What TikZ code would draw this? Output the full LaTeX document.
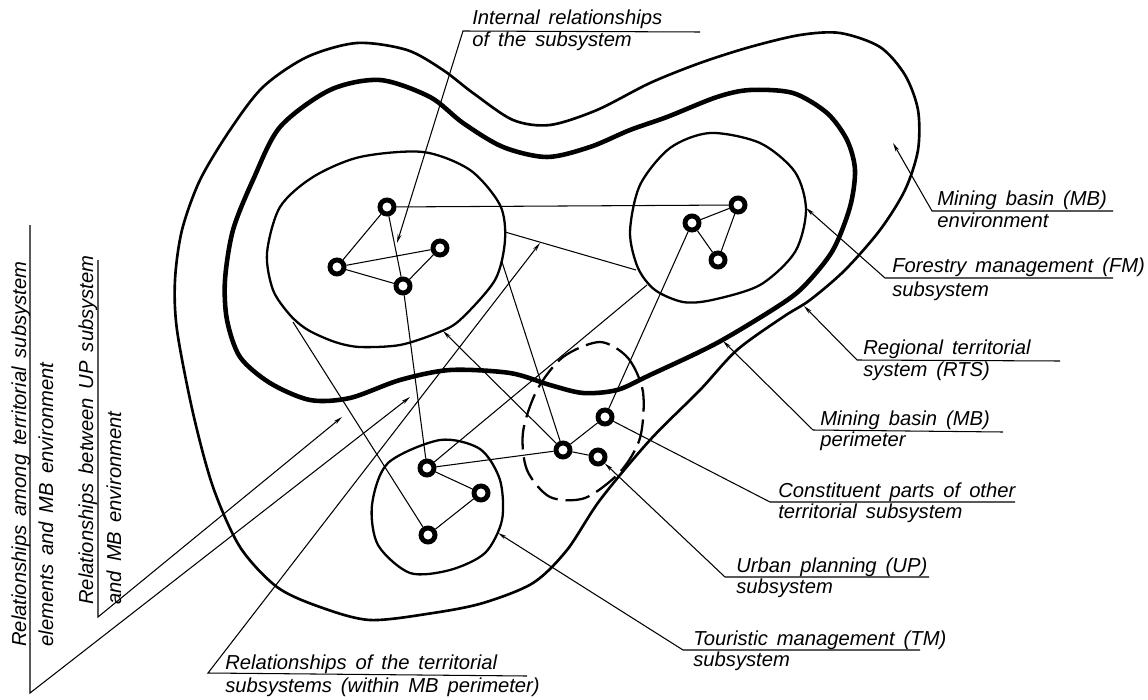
\documentclass[tikz,border=0pt]{standalone}
\usepackage{fontspec}
\newfontfamily\lettering{Liberation Sans}[WordSpace=1.6]
\usetikzlibrary{arrows.meta}

\begin{document}
\begin{tikzpicture}[x=0.02cm, y=-0.02cm,
  rts/.style={line width=1.5pt},
  perim/.style={line width=2.6pt},
  sub/.style={line width=1.3pt},
  elem/.style={circle, draw, line width=2.8pt, fill=white, inner sep=0pt, minimum size=0.28cm},
  rel/.style={line width=0.6pt},
  lead/.style={line width=0.6pt, -{Stealth[length=5pt, width=2.2pt]}},
  txt/.style={font=\lettering\itshape\fontsize{11.5}{13}\selectfont, inner sep=0pt, anchor=base west}
]
\useasboundingbox (0,0) rectangle (1148,699);

\draw[rts] plot[smooth cycle] coordinates {(230,130) (263,87) (307,57) (357,43) (407,50) (443,70)
  (473,93) (513,120) (550,125) (597,110) (650,83) (700,63) (750,47) (800,35) (840,33) (880,47)
  (905,75) (918,110) (918,150) (905,190) (880,230) (845,270) (810,300) (783,317) (737,350)
  (700,390) (650,440) (600,500) (567,550) (533,583) (483,603) (433,613) (370,620) (320,607)
  (277,587) (240,547) (213,487) (193,413) (177,330) (175,280) (182,230) (200,180)};
\draw[perim] plot[smooth cycle] coordinates {(253,180) (280,127) (330,90) (380,80) (430,97)
  (463,123) (503,147) (547,157) (590,147) (630,130) (667,117) (717,97) (750,90) (793,93)
  (827,113) (847,140) (855,170) (850,207) (833,250) (807,283) (783,303) (717,343) (650,375)
  (617,390) (583,393) (550,385) (510,373) (450,370) (400,380) (350,398) (310,400) (270,383)
  (240,357) (227,320) (225,280) (233,230)};

\draw[sub] plot[smooth cycle] coordinates {(423,152) (470,170) (500,205) (505,240) (495,280)
  (460,320) (437,333) (400,345) (360,347) (335,342) (308,330) (290,315) (273,290) (267,253)
  (280,207) (313,177) (360,157)};
\draw[sub] plot[smooth cycle] coordinates {(710,133) (760,143) (795,172) (806,210) (795,252)
  (760,285) (712,300) (683,302) (655,290) (638,268) (630,232) (640,185) (670,148)};
\draw[sub] plot[smooth cycle] coordinates {(440,440) (480,449) (500,480) (502,520) (485,553)
  (450,570) (410,573) (378,545) (372,505) (388,463)};
\draw[sub, dash pattern=on 14pt off 4.5pt] plot[smooth cycle] coordinates {(600,342) (628,358)
  (643,392) (640,438) (620,472) (585,498) (550,497) (527,470) (523,432) (537,390) (563,357)};

\coordinate (le) at (505,232);
\coordinate (le2) at (502,262);
\coordinate (lsw) at (293,322);
\coordinate (lbot) at (443,331);
\coordinate (fw) at (636,270);
\coordinate (fsw) at (647,285);

\node[elem] (n1) at (387,207) {};
\node[elem] (n2) at (337,267) {};
\node[elem] (n3) at (440,248) {};
\node[elem] (n4) at (403,286) {};
\node[elem] (f1) at (738,205) {};
\node[elem] (f2) at (692,223) {};
\node[elem] (f3) at (718,260) {};
\node[elem] (t1) at (427,468) {};
\node[elem] (t2) at (481,493) {};
\node[elem] (t3) at (428,535) {};
\node[elem] (u1) at (563,450) {};
\node[elem] (u2) at (605,417) {};
\node[elem] (u3) at (598,457) {};

\draw[rel] (n1) -- (n2) (n2) -- (n3) (n2) -- (n4) (n3) -- (n4) (n1) -- (n4);
\draw[rel] (f2) -- (f1) (f2) -- (f3) (f1) -- (f3);
\draw[rel] (t1) -- (t2) (t2) -- (t3);
\draw[rel] (u1) -- (u2) (u1) -- (u3);
\draw[rel] (n1) -- (f1);
\draw[rel] (n4) -- (t1);
\draw[rel] (t1) -- (u1);
\draw[rel] (f2) -- (u2);
\draw[rel] (t1) -- (fsw);
\draw[rel] (t3) -- (lsw);
\draw[rel] (le) -- (fw);
\draw[rel] (le2) -- (u1);
\draw[lead] (u1) -- (lbot);

\coordinate (irtip) at (397,243);
\coordinate (rttip) at (540,243);
\coordinate (atip) at (410,397);
\coordinate (btip) at (342,417);
\coordinate (envtip) at (893,143);
\coordinate (fmtip) at (806,208);
\coordinate (rtstip) at (804,306);
\coordinate (mbtip) at (723,341);
\coordinate (tmtip) at (498,533);

\coordinate (ir) at (463,31);   \coordinate (irE) at (700,32);
\coordinate (rt) at (208,673);  \coordinate (rtE) at (527,676);
\coordinate (av) at (30,693);   \coordinate (atop) at (30,225);
\coordinate (bv) at (98,617);   \coordinate (btop) at (98,260);
\coordinate (env) at (932,211); \coordinate (envE) at (1113,211);
\coordinate (fm) at (885,278);  \coordinate (fmE) at (1113,278);
\coordinate (rts) at (857,360); \coordinate (rtsE) at (1060,361);
\coordinate (mbp) at (813,430); \coordinate (mbpE) at (1003,432);
\coordinate (cp) at (770,502);  \coordinate (cpE) at (1015,502);
\coordinate (up) at (725,577);  \coordinate (upE) at (929,577);
\coordinate (tm) at (683,650);  \coordinate (tmE) at (920,650);

\draw[lead] (irE) -- (ir) -- (irtip);
\draw[lead] (rtE) -- (rt) -- (rttip);
\draw[lead] (atop) -- (av) -- (atip);
\draw[lead] (btop) -- (bv) -- (btip);
\draw[lead] (envE) -- (env) -- (envtip);
\draw[lead] (fmE) -- (fm) -- (fmtip);
\draw[lead] (rtsE) -- (rts) -- (rtstip);
\draw[lead] (mbpE) -- (mbp) -- (mbtip);
\draw[rel] (cpE) -- (cp) -- (u2);
\draw[lead] (upE) -- (up) -- (u3);
\draw[lead] (tmE) -- (tm) -- (tmtip);

\node[txt] (ir1) at (472,25) {Internal relationships};
\node[txt] (ir2) at (472,47) {of the subsystem};
\node[txt] (rt1) at (225,669) {Relationships of the territorial};
\node[txt] (rt2) at (225,692) {subsystems (within MB perimeter)};
\node[txt, rotate=90] (a1) at (26,647) {Relationships among territorial subsystem};
\node[txt, rotate=90] (a2) at (53,647) {elements and MB environment};
\node[txt, rotate=90] (b1) at (93,605) {Relationships between UP subsystem};
\node[txt, rotate=90] (b2) at (121,605) {and MB environment};
\node[txt] (env1) at (937,205) {Mining basin (MB)};
\node[txt] (env2) at (937,227) {environment};
\node[txt] (fm1) at (892,272) {Forestry management (FM)};
\node[txt] (fm2) at (892,296) {subsystem};
\node[txt] (rts1) at (863,354) {Regional territorial};
\node[txt] (rts2) at (863,376) {system (RTS)};
\node[txt] (mbp1) at (820,425) {Mining basin (MB)};
\node[txt] (mbp2) at (820,446) {perimeter};
\node[txt] (cp1) at (778,497) {Constituent parts of other};
\node[txt] (cp2) at (778,518) {territorial subsystem};
\node[txt] (up1) at (736,572) {Urban planning (UP)};
\node[txt] (up2) at (736,593) {subsystem};
\node[txt] (tm1) at (693,645) {Touristic management (TM)};
\node[txt] (tm2) at (693,666) {subsystem};
\end{tikzpicture}
\end{document}
